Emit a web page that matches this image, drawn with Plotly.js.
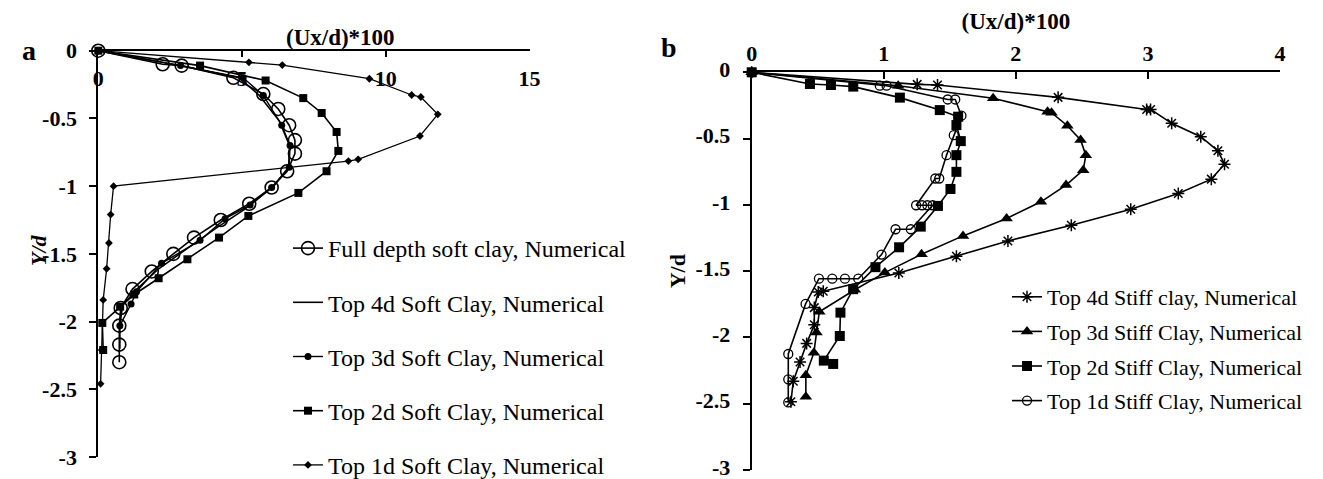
<!DOCTYPE html>
<html>
<head>
<meta charset="utf-8">
<script src="https://cdn.plot.ly/plotly-3.0.1.min.js"></script>
<style>html,body{margin:0;padding:0;background:#fff;}#chart{width:1323px;height:479px;}</style>
</head>
<body>
<div id="chart"></div>
<script>
// ---------- Panel a : soft clay ----------
const fullX = [0, 2.24, 2.90, 4.70, 5.74, 6.26, 6.64, 6.84, 6.84, 6.57, 6.03, 5.25, 4.26, 3.33, 2.61, 1.86, 1.19, 0.78, 0.73, 0.73, 0.73];
const fullY = [0, -0.10, -0.11, -0.20, -0.32, -0.43, -0.55, -0.66, -0.76, -0.89, -1.01, -1.13, -1.25, -1.38, -1.50, -1.63, -1.76, -1.90, -2.03, -2.17, -2.30];
const soft4X = [0, 2.6, 4.9, 5.6, 6.3, 6.65, 6.62, 6.1, 5.1, 4.1, 3.1, 2.1, 1.3, 0.85, 0.75, 0.75];
const soft4Y = [0, -0.10, -0.20, -0.33, -0.52, -0.70, -0.86, -1.00, -1.17, -1.31, -1.46, -1.61, -1.77, -1.88, -2.02, -2.20];
const soft3X = [0, 2.86, 5.04, 5.74, 6.38, 6.67, 6.64, 6.03, 5.28, 4.41, 3.54, 2.20, 1.33, 1.14, 0.75];
const soft3Y = [0, -0.11, -0.20, -0.33, -0.55, -0.70, -0.86, -1.01, -1.14, -1.24, -1.40, -1.57, -1.78, -1.87, -2.03];
const soft2X = [0, 3.54, 5.82, 7.13, 7.77, 8.29, 8.35, 7.94, 6.96, 5.22, 4.20, 3.10, 2.10, 1.25, 0.76, 0.14, 0.17];
const soft2Y = [0, -0.11, -0.22, -0.35, -0.46, -0.60, -0.74, -0.89, -1.05, -1.22, -1.38, -1.54, -1.68, -1.80, -1.89, -2.01, -2.21];
const soft1X = [0, 5.24, 6.40, 9.43, 10.90, 11.22, 11.81, 11.19, 9.04, 8.70, 0.53, 0.43, 0.37, 0.29, 0.17, 0.12, 0.08];
const soft1Y = [0, -0.086, -0.106, -0.207, -0.327, -0.342, -0.470, -0.630, -0.802, -0.815, -1.00, -1.21, -1.42, -1.61, -1.84, -2.21, -2.46];

// ---------- Panel b : stiff clay ----------
const stiff4X = [0, 1.253, 1.407, 2.32, 2.99, 3.02, 3.18, 3.40, 3.53, 3.58, 3.48, 3.23, 2.87, 2.42, 1.94, 1.55, 1.114, 0.542, 0.504, 0.474, 0.474, 0.416, 0.366, 0.315, 0.297];
const stiff4Y = [0, -0.091, -0.096, -0.189, -0.28, -0.28, -0.385, -0.486, -0.592, -0.693, -0.806, -0.914, -1.033, -1.154, -1.272, -1.388, -1.514, -1.652, -1.657, -1.775, -1.905, -2.045, -2.185, -2.33, -2.485];
const stiff3X = [0, 1.109, 1.828, 2.24, 2.27, 2.39, 2.49, 2.53, 2.51, 2.38, 2.19, 1.93, 1.60, 1.286, 1.008, 0.781, 0.512, 0.491, 0.471, 0.41, 0.41];
const stiff3Y = [0, -0.101, -0.196, -0.297, -0.305, -0.403, -0.511, -0.625, -0.738, -0.851, -0.977, -1.103, -1.234, -1.373, -1.511, -1.640, -1.806, -1.962, -2.115, -2.285, -2.448];
const stiff2X = [0, 0.441, 0.60, 0.769, 1.122, 1.424, 1.563, 1.55, 1.583, 1.55, 1.55, 1.505, 1.41, 1.28, 1.116, 0.937, 0.768, 0.672, 0.667, 0.546, 0.617];
const stiff2Y = [0, -0.088, -0.096, -0.108, -0.191, -0.285, -0.335, -0.398, -0.519, -0.625, -0.751, -0.880, -1.008, -1.164, -1.320, -1.470, -1.636, -1.813, -1.989, -2.175, -2.200];
const stiff1X = [0, 0.970, 1.021, 1.484, 1.541, 1.588, 1.53, 1.475, 1.42, 1.39, 1.245, 1.29, 1.33, 1.37, 1.205, 1.089, 0.983, 0.807, 0.706, 0.61, 0.509, 0.408, 0.277, 0.277, 0.277];
const stiff1Y = [0, -0.101, -0.101, -0.205, -0.205, -0.327, -0.474, -0.625, -0.801, -0.801, -1.003, -1.003, -1.003, -1.003, -1.184, -1.184, -1.375, -1.557, -1.557, -1.557, -1.557, -1.747, -2.125, -2.316, -2.490];

// ---------- tick labels ----------
const xTickValsA = [0, 5, 10, 15];
const xTickTextA = ['0', '5', '10', '15'];
const xTickValsB = [0, 1, 2, 3, 4];
const xTickTextB = ['0', '1', '2', '3', '4'];
const yTickVals = [0, -0.5, -1, -1.5, -2, -2.5, -3];
const yTickText = ['0', '-0.5', '-1', '-1.5', '-2', '-2.5', '-3'];

const namesA = ['Full depth soft clay, Numerical', 'Top 4d Soft Clay, Numerical', 'Top 3d Soft Clay, Numerical', 'Top 2d Soft Clay, Numerical', 'Top 1d Soft Clay, Numerical'];
const namesB = ['Top 4d Stiff clay, Numerical', 'Top 3d Stiff Clay, Numerical', 'Top 2d Stiff Clay, Numerical', 'Top 1d Stiff Clay, Numerical'];

const F = 'Liberation Serif, Times New Roman, serif';
const K = '#000';

function tr(x, y, name, mode, marker, lw, legend, xa, ya, grp) {
  return {x: x, y: y, name: name, mode: mode, type: 'scatter', marker: marker,
    line: {color: K, width: lw}, xaxis: xa, yaxis: ya, legend: legend,
    legendgroup: grp, cliponaxis: false, hoverinfo: 'x+y'};
}

const data = [
  tr(fullX, fullY, namesA[0], 'lines+markers', {symbol: 'circle-open', size: 13, color: K, line: {width: 1.6, color: K}}, 1.6, 'legend', 'x', 'y', 'a0'),
  tr(soft4X, soft4Y, namesA[1], 'lines', {}, 1.6, 'legend', 'x', 'y', 'a1'),
  tr(soft3X, soft3Y, namesA[2], 'lines+markers', {symbol: 'circle', size: 7, color: K}, 1.4, 'legend', 'x', 'y', 'a2'),
  tr(soft2X, soft2Y, namesA[3], 'lines+markers', {symbol: 'square', size: 8, color: K}, 1.6, 'legend', 'x', 'y', 'a3'),
  tr(soft1X, soft1Y, namesA[4], 'lines+markers', {symbol: 'diamond', size: 6, color: K}, 1.3, 'legend', 'x', 'y', 'a4'),
  tr(stiff4X, stiff4Y, namesB[0], 'lines+markers', {symbol: 'asterisk-open', size: 10, color: K, line: {width: 1.5, color: K}}, 1.6, 'legend2', 'x2', 'y2', 'b0'),
  tr(stiff3X, stiff3Y, namesB[1], 'lines+markers', {symbol: 'triangle-up', size: 11, color: K}, 1.6, 'legend2', 'x2', 'y2', 'b1'),
  tr(stiff2X, stiff2Y, namesB[2], 'lines+markers', {symbol: 'square', size: 10, color: K}, 1.6, 'legend2', 'x2', 'y2', 'b2'),
  tr(stiff1X, stiff1Y, namesB[3], 'lines+markers', {symbol: 'circle-open', size: 9, color: K, line: {width: 1.3, color: K}}, 1.6, 'legend2', 'x2', 'y2', 'b3')
];

const W = 1323, H = 479;
const tickFont = {family: F, size: 22, color: K, weight: 'bold'};
const yAxisCommon = {
  range: [-3, 0], tickvals: yTickVals, ticktext: yTickText, ticks: 'outside', ticklen: 7, tickwidth: 2,
  tickcolor: K, showline: true, linewidth: 2, linecolor: K, showgrid: false, zeroline: false,
  tickfont: tickFont, automargin: false, ticklabelstandoff: 8, ticklabeloverflow: 'allow'
};

const layout = {
  width: W, height: H, margin: {l: 0, r: 0, t: 0, b: 0, autoexpand: false},
  paper_bgcolor: '#fff', plot_bgcolor: 'rgba(0,0,0,0)',
  font: {family: F, color: K},
  showlegend: true,
  xaxis: {
    domain: [98.3 / W, 529.5 / W], range: [0, 15], side: 'top', anchor: 'y',
    tickvals: xTickValsA, ticktext: xTickTextA, ticks: 'inside', ticklen: 6, tickwidth: 2, tickcolor: K,
    ticklabelposition: 'inside', ticklabeloverflow: 'allow', layer: 'below traces', ticklabelstandoff: 15,
    showline: true, linewidth: 2, linecolor: K, showgrid: false, zeroline: false,
    tickfont: tickFont, automargin: false
  },
  yaxis: Object.assign({}, yAxisCommon, {
    domain: [1 - 457 / H, 1 - 50.7 / H], anchor: 'x'
  }),
  xaxis2: {
    domain: [751.7 / W, 1280 / W], range: [0, 4], side: 'top', anchor: 'y2',
    tickvals: xTickValsB, ticktext: xTickTextB, ticks: 'inside', ticklen: 7, tickwidth: 2, tickcolor: K,
    showline: true, linewidth: 2, linecolor: K, showgrid: false, zeroline: false,
    tickfont: tickFont, automargin: false, ticklabelstandoff: 1, ticklabeloverflow: 'allow',
    title: {text: '(Ux/d)*100', font: {family: F, size: 23, color: K, weight: 'bold'}, standoff: 4}
  },
  yaxis2: Object.assign({}, yAxisCommon, {
    domain: [1 - 470 / H, 1 - 72.3 / H], anchor: 'x2', ticklabelshift: -3,
    title: {text: 'Y/d', font: {family: F, size: 22, color: K, weight: 'bold'}, standoff: 4}
  }),
  legend: {
    x: 288 / W, y: 1 - 226 / H, xanchor: 'left', yanchor: 'top',
    font: {family: F, size: 24, color: K}, tracegroupgap: 20, bgcolor: 'rgba(0,0,0,0)', borderwidth: 0
  },
  legend2: {
    x: 1007 / W, y: 1 - 276 / H, xanchor: 'left', yanchor: 'top',
    font: {family: F, size: 22, color: K}, tracegroupgap: 3, bgcolor: 'rgba(0,0,0,0)', borderwidth: 0
  },
  annotations: [
    {text: '(Ux/d)*100', xref: 'paper', yref: 'paper', x: 340 / W, y: 1 - 37 / H, xanchor: 'center', yanchor: 'middle',
     showarrow: false, font: {family: F, size: 23, color: K, weight: 'bold'}},
    {text: '<i>Y/d</i>', xref: 'paper', yref: 'paper', x: 38 / W, y: 1 - 250 / H, xanchor: 'center', yanchor: 'middle',
     textangle: -90, showarrow: false, font: {family: F, size: 22, color: K, weight: 'bold'}},
    {text: 'a', xref: 'paper', yref: 'paper', x: 29 / W, y: 1 - 50 / H, xanchor: 'center', yanchor: 'middle',
     showarrow: false, font: {family: F, size: 28, color: K, weight: 'bold'}},
    {text: 'b', xref: 'paper', yref: 'paper', x: 669 / W, y: 1 - 48 / H, xanchor: 'center', yanchor: 'middle',
     showarrow: false, font: {family: F, size: 28, color: K, weight: 'bold'}}
  ]
};

Plotly.newPlot('chart', data, layout, {staticPlot: true, displayModeBar: false});
</script>
</body>
</html>
